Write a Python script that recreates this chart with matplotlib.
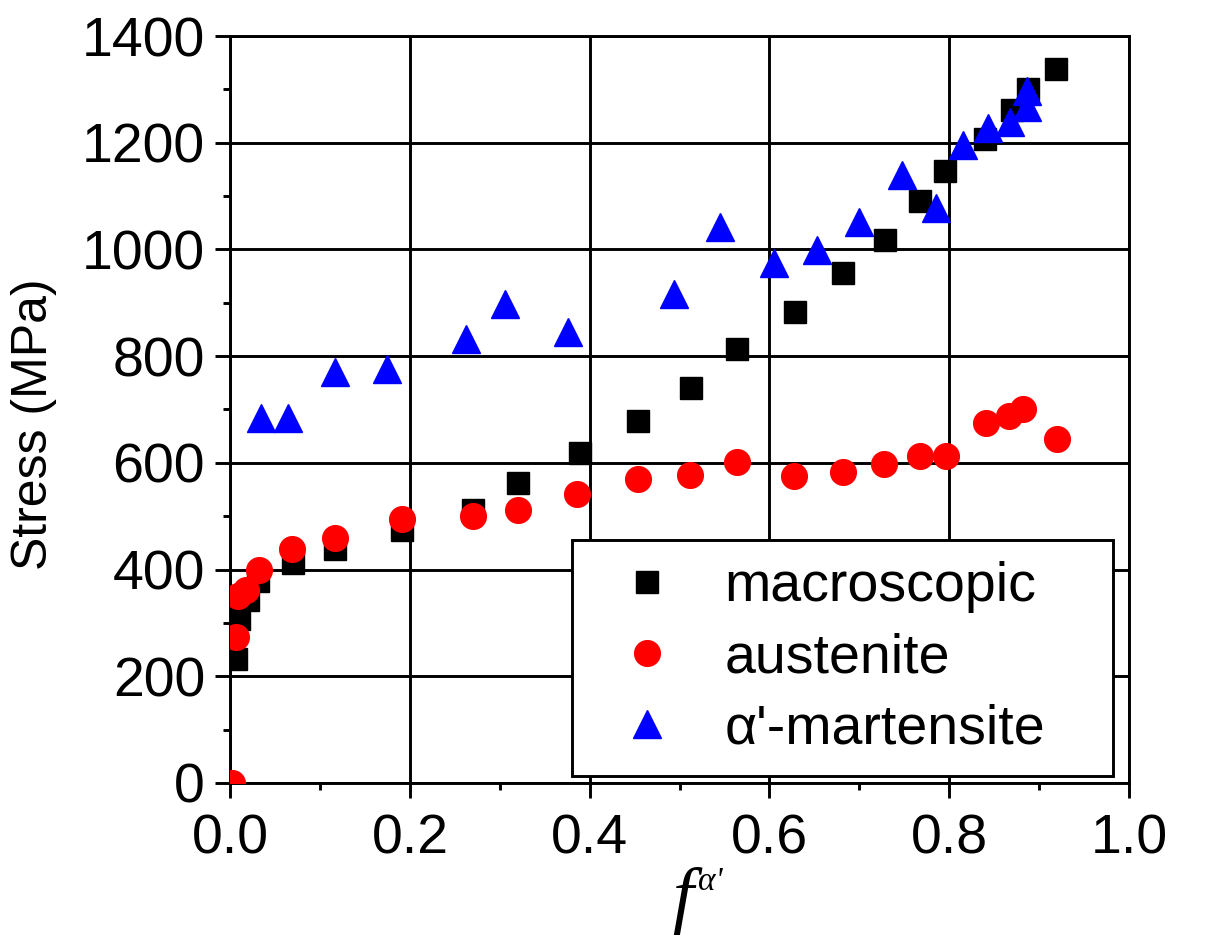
import matplotlib
matplotlib.use("Agg")
import matplotlib.pyplot as plt
from matplotlib.ticker import MultipleLocator

plt.rcParams['font.family'] = ['Liberation Sans', 'DejaVu Sans']

# macroscopic stress vs. martensite fraction
macro_f = [0.007, 0.01, 0.02, 0.031, 0.07, 0.117, 0.191, 0.27, 0.32, 0.389, 0.454,
           0.513, 0.564, 0.628, 0.682, 0.728, 0.768, 0.795, 0.84, 0.87, 0.888, 0.919]
macro_s = [232, 307, 343, 379, 412, 438, 474, 512, 562, 618, 678,
           740, 813, 883, 956, 1018, 1091, 1147, 1207, 1261, 1300, 1338]

# austenite phase stress
aust_f = [0.002, 0.007, 0.009, 0.018, 0.032, 0.069, 0.117, 0.191, 0.27, 0.32, 0.386, 0.454,
          0.512, 0.564, 0.627, 0.682, 0.727, 0.768, 0.796, 0.841, 0.867, 0.882, 0.92]
aust_s = [0, 274, 350, 362, 399, 438, 459, 494, 500, 511, 541, 570,
          577, 602, 575, 583, 598, 613, 613, 675, 688, 700, 645]

# alpha'-martensite phase stress
mart_f = [0.034, 0.064, 0.117, 0.175, 0.262, 0.306, 0.376, 0.494, 0.545, 0.605, 0.653,
          0.70, 0.748, 0.785, 0.815, 0.843, 0.868, 0.887, 0.887]
mart_s = [684, 684, 770, 776, 832, 898, 845, 917, 1042, 975, 999,
          1051, 1140, 1077, 1196, 1228, 1239, 1267, 1297]

fig = plt.figure(figsize=(12.11, 9.36), dpi=100)
ax = fig.add_axes([0.19, 0.1635, 0.7423, 0.798])

ax.plot(macro_f, macro_s, 's', color='black', markersize=16, label='macroscopic', zorder=3)
ax.plot(aust_f, aust_s, 'o', color='red', markersize=18.5, label='austenite', zorder=3)
ax.plot(mart_f, mart_s, '^', color='blue', markersize=20, label="\u03b1'-martensite", zorder=3)

ax.set_xlim(0, 1.0)
ax.set_ylim(0, 1400)
ax.xaxis.set_minor_locator(MultipleLocator(0.1))
ax.yaxis.set_major_locator(MultipleLocator(200))
ax.yaxis.set_minor_locator(MultipleLocator(100))
ax.set_xticks([0, 0.2, 0.4, 0.6, 0.8, 1.0])
ax.set_xticklabels(['0.0', '0.2', '0.4', '0.6', '0.8', '1.0'])

ax.grid(True, which='major', color='black', linewidth=2.1, zorder=1)
ax.set_axisbelow(True)
for sp in ax.spines.values():
    sp.set_linewidth(2.1)

ax.tick_params(which='major', direction='out', length=11, width=2.1, labelsize=40)
ax.tick_params(axis='y', which='major', pad=7)
ax.tick_params(axis='x', which='major', pad=11)
ax.tick_params(which='minor', direction='out', length=5, width=2.1)
ax.tick_params(top=False, right=False)

ax.set_ylabel('Stress (MPa)', fontsize=36)
ax.yaxis.set_label_coords(-0.192, 0.48)

# x label: italic f with small alpha' superscript
ax.text(0.503, -0.182, 'f', transform=ax.transAxes, fontsize=54, ha='center', va='baseline',
        family='Liberation Serif', style='italic')
ax.text(0.521, -0.143, "\u03b1'", transform=ax.transAxes, fontsize=24, ha='left', va='baseline',
        family='Liberation Serif', style='italic')

leg = ax.legend(loc='lower left', bbox_to_anchor=(0.38, 0.009, 0.602, 0.318), mode='expand',
                fontsize=40, frameon=True, fancybox=False, framealpha=1, edgecolor='black',
                handlelength=1.94, handletextpad=0.43, borderpad=0.38, labelspacing=0.34,
                borderaxespad=0)
leg.get_frame().set_linewidth(2.1)
leg.set_zorder(5)

fig.savefig('out.png', dpi=100)
